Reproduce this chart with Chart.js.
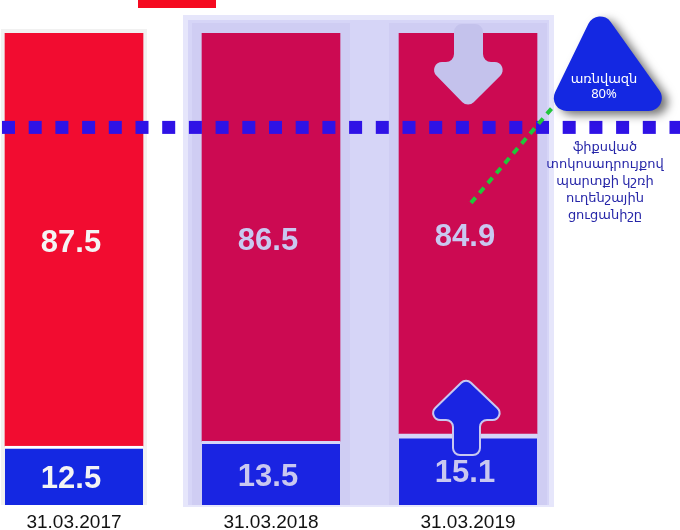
<!DOCTYPE html>
<html>
<head>
<meta charset="utf-8">
<script src="https://cdn.jsdelivr.net/npm/chart.js@4.4.1/dist/chart.umd.min.js"></script>
<style>
  html, body { margin: 0; padding: 0; background: #fff; }
  #wrap { width: 680px; height: 530px; position: relative; }
</style>
</head>
<body>
<div id="wrap"><canvas id="debtChart"></canvas></div>
<script>
// Fixed vs floating rate share of debt, %
const DATES = ['31.03.2017', '31.03.2018', '31.03.2019'];
const FIXED = [87.5, 86.5, 84.9];
const FLOATING = [12.5, 13.5, 15.1];
const THRESHOLD = 80;
const NOTE_TOP = ['առնվազն', '80%'];
const NOTE_LINES = ['ֆիքսված', 'տոկոսադրույքով', 'պարտքի կշռի', 'ուղենշային', 'ցուցանիշը'];

const COLORS = {
    fixed:    ['#f20c30', '#cc0a52', '#cc0a52'],
    floating: ['#1428e2', '#1a24e2', '#1a24e2'],
    labels:   ['#f4f4f4', '#c9c8f0', '#c9c8f0'],
    gap:      ['#ffffff', '#d6d5f7', '#d6d5f7'],
    dots:     '#2f12e6',
    green:    '#22c63a',
    tri:      '#1428e2',
    note:     '#2626a8',
    lavender: '#c4c2ec',
};

function roundedPoly(ctx, pts, r) {
    ctx.beginPath();
    const n = pts.length;
    for (let i = 0; i < n; i++) {
        const p0 = pts[(i + n - 1) % n], p1 = pts[i], p2 = pts[(i + 1) % n];
        const mid = [(p0[0] + p1[0]) / 2, (p0[1] + p1[1]) / 2];
        if (i === 0) ctx.moveTo(mid[0], mid[1]);
        ctx.arcTo(p1[0], p1[1], p2[0], p2[1], r);
    }
    ctx.closePath();
}

const decorPlugin = {
    id: 'decor',
    beforeDatasetsDraw(chart) {
        const { ctx } = chart;
        const bars = chart.getDatasetMeta(1).data;
        const b1 = bars[1], b2 = bars[2];
        const y = chart.scales.y;
        const top = y.getPixelForValue(100);
        ctx.save();
        // light frame round the first bar
        const b0 = bars[0];
        ctx.fillStyle = '#f1f1f1';
        ctx.fillRect(b0.x - b0.width / 2 - 4, top - 4, b0.width + 8, y.bottom - top + 4);
        // lavender panel behind the two latest bars
        ctx.fillStyle = '#e6e6fb';
        ctx.fillRect(b1.x - b1.width / 2 - 19, top - 18, (b2.x - b1.x) + b1.width + 36, y.bottom - top + 20);
        ctx.fillStyle = '#d6d5f7';
        ctx.fillRect(b1.x - b1.width / 2 - 14, top - 13, (b2.x - b1.x) + b1.width + 26, y.bottom - top + 13);
        ctx.fillStyle = '#cfcdf3';
        [b1, b2].forEach(b => {
            ctx.fillRect(b.x - b.width / 2 - 10, top - 10, b.width + 20, y.bottom - top + 10);
        });
        // legend swatch, clipped at the top
        ctx.fillStyle = '#f50a20';
        ctx.fillRect(138, 0, 78, 8);
        ctx.restore();
    },
    afterDatasetsDraw(chart) {
        const { ctx } = chart;
        const y = chart.scales.y;
        const floatBars = chart.getDatasetMeta(0).data;
        const fixedBars = chart.getDatasetMeta(1).data;
        const b = fixedBars[2];
        const cx = b.x;
        ctx.save();

        // down arrow at top of latest bar
        ctx.fillStyle = COLORS.lavender;
        roundedPoly(ctx, [
            [cx - 14, 24], [cx + 15, 24], [cx + 15, 62], [cx + 46, 62],
            [cx, 108], [cx - 45, 62], [cx - 14, 62]
        ], 8);
        ctx.fill();

        // up arrow at bottom of latest bar
        ctx.fillStyle = COLORS.floating[2];
        ctx.strokeStyle = '#c8c8f0';
        ctx.lineWidth = 2;
        roundedPoly(ctx, [
            [cx - 2, 378], [cx + 42, 420], [cx + 12, 420], [cx + 12, 455],
            [cx - 15, 455], [cx - 15, 420], [cx - 45, 420]
        ], 7);
        ctx.fill();
        ctx.stroke();

        // value labels
        ctx.font = 'bold 31px "Liberation Sans", Arial, sans-serif';
        ctx.textAlign = 'center';
        ctx.textBaseline = 'middle';
        [[fixedBars, FIXED], [floatBars, FLOATING]].forEach(([set, vals]) => {
            set.forEach((el, i) => {
                const top = Math.min(el.y, el.base), bot = Math.max(el.y, el.base);
                ctx.fillStyle = COLORS.labels[i];
                ctx.fillText(vals[i].toFixed(1), el.x - 3, (top + bot) / 2 + 4);
            });
        });

        // threshold dotted line
        const ty = y.getPixelForValue(THRESHOLD);
        ctx.fillStyle = COLORS.dots;
        for (let x = 2; x < chart.width; x += 26.7) {
            ctx.fillRect(x, ty - 6.5, 13, 13);
        }

        // triangle callout
        const tri = [[598, 4], [674, 111], [546, 111]];
        ctx.save();
        ctx.shadowColor = 'rgba(0,0,0,0.55)';
        ctx.shadowBlur = 10;
        ctx.shadowOffsetX = 6;
        ctx.shadowOffsetY = 4;
        ctx.fillStyle = COLORS.tri;
        roundedPoly(ctx, tri, 13);
        ctx.fill();
        ctx.restore();

        // green leader line from bar to callout
        ctx.strokeStyle = COLORS.green;
        ctx.lineWidth = 4;
        ctx.setLineDash([7, 6]);
        ctx.beginPath();
        ctx.moveTo(b.x + 3, y.getPixelForValue(64));
        ctx.lineTo(552, 108);
        ctx.stroke();
        ctx.setLineDash([]);

        ctx.font = '13px "Noto Sans", "DejaVu Sans", sans-serif';
        ctx.fillStyle = '#ffffff';
        ctx.fillText(NOTE_TOP[0], 604, 79);
        ctx.fillText(NOTE_TOP[1], 604, 94);

        ctx.fillStyle = COLORS.note;
        NOTE_LINES.forEach((t, i) => ctx.fillText(t, 605, 147 + i * 17));
        ctx.restore();
    }
};

new Chart(document.getElementById('debtChart'), {
    type: 'bar',
    data: {
        datasets: [
            {
                label: 'floating',
                data: FLOATING.map((v, i) => ({ x: i, y: v })),
                backgroundColor: COLORS.floating,
                borderColor: COLORS.gap,
                borderSkipped: false,
                borderWidth: ctx => ({ top: ctx.dataIndex === 2 ? 5 : 3, left: 0, right: 0, bottom: 0 }),
                barThickness: 138,
            },
            {
                label: 'fixed',
                data: FIXED.map((v, i) => ({ x: i, y: v })),
                backgroundColor: COLORS.fixed,
                borderWidth: 0,
                barThickness: 138,
            }
        ]
    },
    options: {
        responsive: true,
        maintainAspectRatio: false,
        animation: false,
        layout: { padding: { top: 33, left: 0, right: 0, bottom: 0 } },
        plugins: {
            legend: { display: false },
            tooltip: { enabled: false },
        },
        scales: {
            x: {
                type: 'linear',
                stacked: true,
                offset: false,
                min: -0.3756,
                max: 3.0761,
                grid: { display: false },
                border: { display: false },
                afterBuildTicks: axis => { axis.ticks = DATES.map((_, i) => ({ value: i })); },
                afterFit: axis => { axis.height = 25; },
                ticks: {
                    padding: -2,
                    color: '#111',
                    font: { size: 19, family: '"Liberation Sans", Arial, sans-serif' },
                    callback: v => DATES[v] ?? '',
                },
            },
            y: {
                stacked: true,
                display: false,
                min: 0,
                max: 100,
            },
        },
    },
    plugins: [decorPlugin],
});
</script>
</body>
</html>
